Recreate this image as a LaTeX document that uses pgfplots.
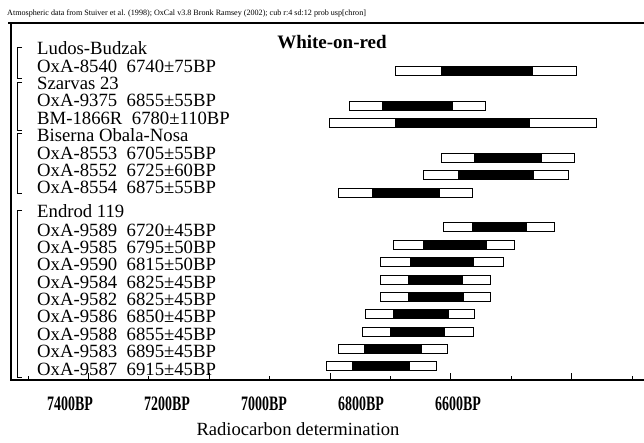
\documentclass[border=0pt]{standalone}
\usepackage{fontspec}
\setmainfont{Liberation Serif}
\usepackage{graphicx}
\usepackage{pgfplots}
\usepackage{pgfplotstable}
\pgfplotsset{compat=1.18}

% Calibrated ranges per determination (BP): outer = 95.4%, inner = 68.2%
\pgfplotstableread{
row  o1    i1    i2    o2
1    6728  6635  6447  6355
3    6823  6755  6612  6544
4    6866  6728  6452  6315
6    6635  6567  6427  6359
7    6672  6598  6445  6373
8    6847  6777  6639  6571
10   6629  6571  6458  6402
11   6734  6672  6542  6483
12   6759  6697  6569  6507
13   6759  6703  6590  6534
14   6759  6703  6588  6532
15   6790  6734  6619  6565
16   6796  6740  6627  6569
17   6847  6792  6676  6621
18   6872  6817  6701  6645
}\datingtable

\newcommand\tl[1]{\scalebox{0.68}[1]{\bfseries #1}}
\newcommand\lbl[2]{\node[anchor=base west, inner sep=0pt, font=\fontsize{18.7}{20}\selectfont] at (axis cs:7468,#1) {#2};}
\newcommand\gap{\hspace{9.5pt}}

\begin{document}
\begin{tikzpicture}
\useasboundingbox (-11pt,-62pt) rectangle (633pt,380pt);
\begin{axis}[
  scale only axis,
  width=633pt, height=357pt,
  x dir=reverse, y dir=reverse,
  xmin=6216.5, xmax=7521.7,
  ymin=-1.76, ymax=18.78,
  axis line style={draw=none},
  clip=false,
  ytick=\empty,
  xtick pos=bottom,
  tick align=inside,
  xtick={7400,7200,7000,6800,6600},
  xticklabels={\tl{7400BP},\tl{7200BP},\tl{7000BP},\tl{6800BP},\tl{6600BP}},
  xticklabel style={anchor=center, yshift=-24pt, font=\fontsize{20.5}{22}\selectfont},
  major tick length=0pt,
  minor xtick={7486.6,7237.5,6988.4,6739.4,6490.3,6241.2},
  minor tick length=4pt,
  extra x ticks={7362.1,7113,6863.9,6614.8,6365.7},
  extra x tick labels={},
  extra x tick style={major tick length=7pt},
  every tick/.style={black, line width=1pt},
]
% bars: white outer range with a black 1-sigma range on top
\pgfplotstablegetrowsof{\datingtable}
\pgfmathtruncatemacro\lastrow{\pgfplotsretval-1}
\pgfplotsforeachungrouped \k in {0,...,\lastrow}{%
  \pgfplotstablegetelem{\k}{row}\of\datingtable
  \pgfmathsetmacro\ylo{\pgfplotsretval-0.26}%
  \pgfmathsetmacro\yhi{\pgfplotsretval+0.26}%
  \pgfplotstablegetelem{\k}{o1}\of\datingtable \let\oa\pgfplotsretval
  \pgfplotstablegetelem{\k}{o2}\of\datingtable \let\ob\pgfplotsretval
  \pgfplotstablegetelem{\k}{i1}\of\datingtable \let\ia\pgfplotsretval
  \pgfplotstablegetelem{\k}{i2}\of\datingtable \let\ib\pgfplotsretval
  \edef\temp{%
    \noexpand\addplot[draw=black, fill=white, line width=1pt, mark=none]
      coordinates {(\oa,\ylo) (\ob,\ylo) (\ob,\yhi) (\oa,\yhi)} -- cycle;
    \noexpand\addplot[draw=black, fill=black, line width=1pt, mark=none]
      coordinates {(\ia,\ylo) (\ib,\ylo) (\ib,\yhi) (\ia,\yhi)} -- cycle;
  }%
  \temp
}
% site and sample labels
\lbl{0.07}{Ludos-Budzak}
\lbl{1.07}{OxA-8540\gap 6740±75BP}
\lbl{2.07}{Szarvas 23}
\lbl{3.07}{OxA-9375\gap 6855±55BP}
\lbl{4.07}{BM-1866R\gap 6780±110BP}
\lbl{5.07}{Biserna Obala-Nosa}
\lbl{6.07}{OxA-8553\gap 6705±55BP}
\lbl{7.07}{OxA-8552\gap 6725±60BP}
\lbl{8.07}{OxA-8554\gap 6875±55BP}
\lbl{9.45}{Endrod 119}
\lbl{10.5}{OxA-9589\gap 6720±45BP}
\lbl{11.5}{OxA-9585\gap 6795±50BP}
\lbl{12.5}{OxA-9590\gap 6815±50BP}
\lbl{13.5}{OxA-9584\gap 6825±45BP}
\lbl{14.5}{OxA-9582\gap 6825±45BP}
\lbl{15.5}{OxA-9586\gap 6850±45BP}
\lbl{16.5}{OxA-9588\gap 6855±45BP}
\lbl{17.5}{OxA-9583\gap 6895±45BP}
\lbl{18.5}{OxA-9587\gap 6915±45BP}
\end{axis}
% frame: top, left and bottom only
\draw[line width=1.3pt] (633pt,357pt) -- (-3pt,357pt);
\draw[line width=1.3pt] (0pt,357pt) -- (0pt,0pt) -- (633pt,0pt);
% group brackets
\foreach \ya/\yb in {333/302, 298/250, 247/187, 170/3}{
  \draw[line width=0.9pt] (11pt,\ya pt) -- (6pt,\ya pt) -- (6pt,\yb pt) -- (11pt,\yb pt);
}
% header, title and axis title
\node[anchor=west, inner sep=0pt, font=\fontsize{8.1}{9}\selectfont] at (-4pt,366pt)
  {Atmospheric data from Stuiver et al. (1998); OxCal v3.8 Bronk Ramsey (2002); cub r:4 sd:12 prob usp[chron]};
\node[font=\fontsize{19}{21}\selectfont\bfseries] at (321pt,337.5pt) {White-on-red};
\node[font=\fontsize{18.6}{20}\selectfont] at (287pt,-49pt) {Radiocarbon determination};
\end{tikzpicture}
\end{document}
